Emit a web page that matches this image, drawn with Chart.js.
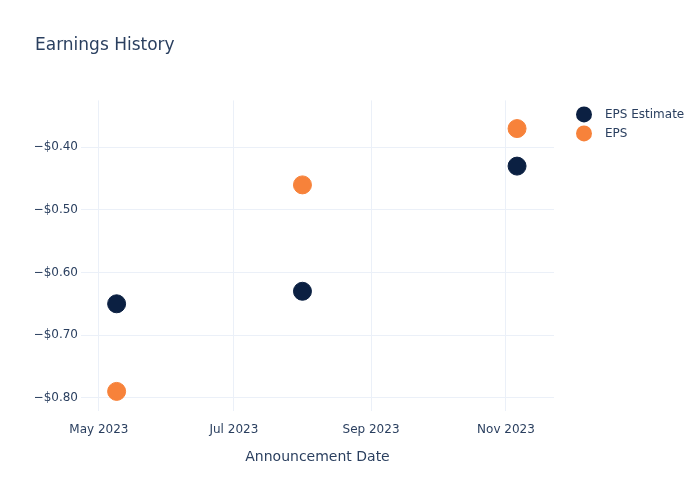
<!DOCTYPE html>
<html>
<head>
<meta charset="utf-8">
<script src="https://cdn.jsdelivr.net/npm/chart.js@4.4.0/dist/chart.umd.min.js"></script>
<style>
  html, body { margin: 0; padding: 0; background: #fff; }
  #wrap { width: 700px; height: 500px; }
</style>
</head>
<body>
<div id="wrap"><canvas id="chart" width="700" height="500"></canvas></div>
<script>
// ---- DATA ----
const dates = ['2023-05-09', '2023-08-01', '2023-11-06'];
const epsEstimate = [-0.65, -0.63, -0.43];
const epsActual = [-0.79, -0.46, -0.37];
const xTickDates = ['2023-05-01', '2023-07-01', '2023-09-01', '2023-11-01'];
const xTickLabels = ['May 2023', 'Jul 2023', 'Sep 2023', 'Nov 2023'];
const yTicks = [-0.8, -0.7, -0.6, -0.5, -0.4];

// ---- HELPERS ----
const BASE = Date.UTC(2023, 4, 1);
const toDay = s => (Date.parse(s + 'T00:00:00Z') - BASE) / 86400000;
const pts = vals => dates.map((d, i) => ({ x: toDay(d), y: vals[i] }));
const xTicks = xTickDates.map(toDay);
const INK = '#2a3f5f';
const GRID = '#ebf0f8';
const FONT = '"DejaVu Sans", sans-serif';

// plotly-like legend to the right of the plot
const sideLegend = {
  id: 'sideLegend',
  afterDraw(chart) {
    const { ctx, chartArea } = chart;
    ctx.save();
    ctx.font = `12px ${FONT}`;
    ctx.textBaseline = 'middle';
    chart.data.datasets.forEach((d, i) => {
      const y = chartArea.top + 14 + i * 19;
      const x = chartArea.right + 30;
      ctx.fillStyle = d.backgroundColor;
      ctx.beginPath();
      ctx.arc(x, y, 8, 0, Math.PI * 2);
      ctx.fill();
      ctx.fillStyle = INK;
      ctx.fillText(d.label, x + 21, y);
    });
    ctx.restore();
  },
};

new Chart(document.getElementById('chart'), {
  type: 'scatter',
  data: {
    datasets: [
      { label: 'EPS Estimate', data: pts(epsEstimate), backgroundColor: '#0b2042',
        borderColor: '#0b2042', pointRadius: 9, pointHoverRadius: 9 },
      { label: 'EPS', data: pts(epsActual), backgroundColor: '#f7823a',
        borderColor: '#f7823a', pointRadius: 9, pointHoverRadius: 9 },
    ],
  },
  plugins: [sideLegend],
  options: {
    responsive: false, animation: false,
    layout: { padding: { left: 35, right: 146, top: 10, bottom: 30 } },
    plugins: {
      title: { display: true, text: 'Earnings History', align: 'start', color: INK,
               font: { family: FONT, size: 17, weight: 'normal' }, padding: { top: 25, bottom: 45 } },
      legend: { display: false },
      tooltip: { enabled: false },
    },
    scales: {
      x: { type: 'linear', min: -8.1, max: 205.7,
           afterBuildTicks: ax => { ax.ticks = xTicks.map(v => ({ value: v })); },
           grid: { color: GRID, drawTicks: false }, border: { display: false },
           ticks: { color: INK, padding: 12, font: { family: FONT, size: 12 }, maxRotation: 0,
                    callback: (v) => xTickLabels[xTicks.indexOf(v)] ?? '' },
           title: { display: true, text: 'Announcement Date', color: INK, padding: { top: 0 },
                    font: { family: FONT, size: 14 } } },
      y: { min: -0.821, max: -0.325,
           afterBuildTicks: ax => { ax.ticks = yTicks.map(v => ({ value: v })); },
           afterFit: ax => { ax.width = 46; },
           grid: { color: GRID, drawTicks: false }, border: { display: false },
           ticks: { color: INK, padding: 3, font: { family: FONT, size: 12 },
                    callback: v => (v < 0 ? '\u2212' : '') + '$' + Math.abs(v).toFixed(2) } },
    },
  },
});
</script>
</body>
</html>
